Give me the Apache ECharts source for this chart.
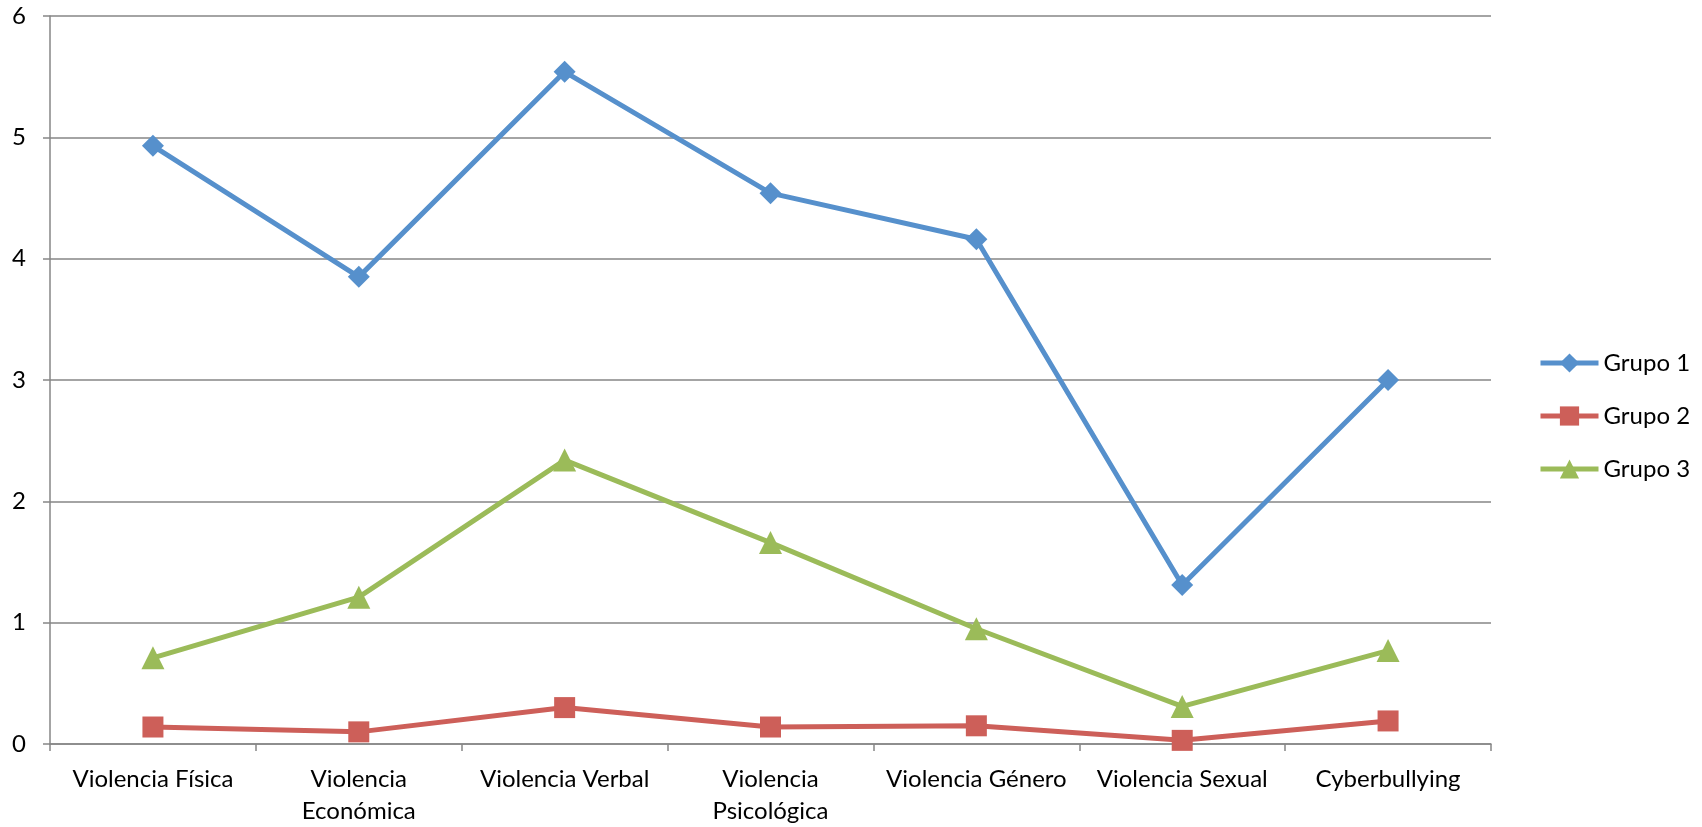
<!DOCTYPE html>
<html>
<head>
<meta charset="utf-8">
<script src="https://cdn.jsdelivr.net/npm/echarts@6/dist/echarts.min.js"></script>
<style>
html,body{margin:0;padding:0;background:#fff;}
#chart{width:1702px;height:827px;}
</style>
</head>
<body>
<div id="chart"></div>
<script>
var categories = ['Violencia Física', 'Violencia\nEconómica', 'Violencia Verbal', 'Violencia\nPsicológica', 'Violencia Género', 'Violencia Sexual', 'Cyberbullying'];
var grupo1 = [4.93, 3.85, 5.54, 4.54, 4.16, 1.31, 3.00];
var grupo2 = [0.14, 0.10, 0.30, 0.14, 0.15, 0.03, 0.19];
var grupo3 = [0.71, 1.21, 2.34, 1.66, 0.95, 0.31, 0.77];
var seriesNames = ['Grupo 1', 'Grupo 2', 'Grupo 3'];
var yTicks = [0, 1, 2, 3, 4, 5, 6];

var FONT = 'Lato, "Open Sans", sans-serif';
var chart = echarts.init(document.getElementById('chart'));
function mk(name, data, color, symbol, size) {
  return {
    name: name, type: 'line', data: data,
    symbol: symbol, symbolSize: size,
    lineStyle: {width: 5, color: color},
    itemStyle: {color: color},
    animation: false
  };
}
chart.setOption({
  animation: false,
  textStyle: {fontFamily: FONT},
  grid: {left: 50, right: 211, top: 16, bottom: 82},
  legend: {
    orient: 'vertical', left: 1533, top: 346,
    itemWidth: 58, itemHeight: 24, itemGap: 29,
    lineStyle: {width: 5},
    textStyle: {fontSize: 24, color: '#000', fontFamily: FONT},
    data: seriesNames
  },
  xAxis: {
    type: 'category', data: categories, boundaryGap: true,
    axisLine: {lineStyle: {color: '#868686', width: 1.5}},
    axisTick: {show: true, length: 7, lineStyle: {color: '#868686', width: 1.5}},
    axisLabel: {fontSize: 24, color: '#000', margin: 19, lineHeight: 32, interval: 0, fontFamily: FONT}
  },
  yAxis: {
    type: 'value', min: 0, max: 6, interval: 1,
    axisLine: {show: true, lineStyle: {color: '#868686', width: 1.5}},
    axisTick: {show: true, length: 7, lineStyle: {color: '#868686', width: 1.5}},
    splitLine: {lineStyle: {color: '#868686', width: 1.5}},
    axisLabel: {fontSize: 24, color: '#000', margin: 24, fontFamily: FONT,
      formatter: function(v){ return yTicks.indexOf(v) >= 0 ? String(v) : ''; }}
  },
  series: [
    mk(seriesNames[0], grupo1, '#5690CC', 'diamond', 22),
    mk(seriesNames[1], grupo2, '#CD5F59', 'rect', 21),
    mk(seriesNames[2], grupo3, '#9BBB59', 'triangle', 23)
  ]
});
</script>
</body>
</html>
